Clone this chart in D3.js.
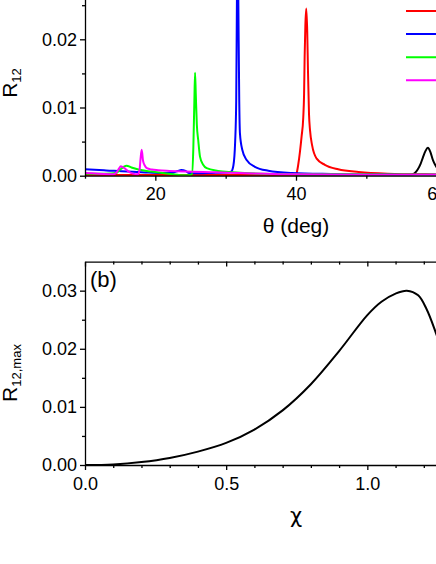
<!DOCTYPE html>
<html>
  <head>
    <meta charset="utf-8">
    <title>R12 vs theta and chi</title>
    <style>
      body { margin: 0; background: #fff; }
      svg { display: block; }
      .tick text { font-family: Arial, "Liberation Sans", sans-serif; }
      .lbl { font-family: Arial, "Liberation Sans", sans-serif; fill: #000; }
    </style>
  </head>
  <body>
    <div id="chart"></div>
    <script src="https://cdn.jsdelivr.net/npm/d3@7"></script>
    <script>
    // panel (a): R12 against theta, one curve per case
    var blackTheta = [10, 56.4, 56.9, 57.3, 57.7, 58.05, 58.4, 58.75, 59.1, 59.5, 59.9, 60.5, 61.5, 63, 70];
    var blackR     = [0, 0.0001, 0.0004, 0.0009, 0.0017, 0.0027, 0.0036, 0.0041, 0.0035, 0.0022, 0.0014, 0.0007, 0.0003, 0.0002, 0.0001];

    var redTheta = [10, 30, 40.0, 40.1, 40.3, 40.56, 40.8, 41.03, 41.15, 41.23, 41.33, 41.46, 41.6, 41.7, 41.85, 42.0, 42.3, 42.94, 44.1, 46.0, 48.9, 53, 60, 70];
    var redR     = [0.0001, 0.0001, 0.0001, 0.0004, 0.0015, 0.0035, 0.0058, 0.0085, 0.012, 0.0175, 0.022, 0.0245, 0.021, 0.0155, 0.009, 0.0066, 0.0044, 0.0025, 0.0016, 0.00094, 0.00054, 0.0003, 0.00018, 0.0001];

    var blueTheta = [10, 13, 16, 19, 21, 22.5, 23.2, 23.7, 24.3, 24.8, 26, 28, 30.5, 30.8, 31.1, 31.35, 31.5, 31.6, 31.7, 31.8, 31.93, 32.03, 32.36, 32.98, 34.16, 36.06, 39.4, 45, 55, 70];
    var blueR     = [0.00095, 0.00078, 0.0006, 0.00048, 0.0004, 0.00045, 0.0007, 0.00083, 0.0007, 0.0004, 0.00035, 0.0004, 0.0005, 0.0006, 0.0015, 0.005, 0.011, 0.0258, 0.036, 0.0258, 0.011, 0.0062, 0.0038, 0.0023, 0.0013, 0.00073, 0.0004, 0.00025, 0.00015, 0.0001];

    var greenTheta = [10, 13, 14.4, 15.0, 15.5, 15.9, 16.6, 17.6, 19.5, 21.0, 22.5, 23.5, 24.5, 25.2, 25.4, 25.55, 25.65, 25.75, 25.9, 26.1, 26.35, 26.8, 27.3, 28.9, 31, 35, 45, 70];
    var greenR     = [0.0003, 0.0003, 0.0004, 0.0009, 0.0013, 0.00147, 0.0012, 0.0009, 0.0006, 0.0004, 0.0002, 0.00008, 0.00005, 0.0002, 0.004, 0.011, 0.0151, 0.012, 0.0075, 0.0052, 0.0028, 0.0016, 0.0011, 0.0007, 0.0005, 0.0003, 0.0002, 0.0001];

    var magentaTheta = [10, 12, 14.0, 14.5, 14.8, 15.1, 15.6, 16.2, 16.8, 17.5, 17.75, 17.9, 18.06, 18.25, 18.5, 18.8, 19.5, 20.4, 22, 24.2, 28.5, 32, 40, 50, 70];
    var magentaR     = [0.0004, 0.0003, 0.0002, 0.0005, 0.001, 0.0014, 0.0011, 0.0006, 0.0003, 0.0002, 0.0008, 0.0025, 0.0038, 0.0022, 0.0015, 0.0011, 0.0009, 0.0008, 0.0007, 0.0006, 0.0005, 0.0004, 0.0002, 0.00015, 0.0001];

    // panel (b): peak value against chi
    var chi  = [0, 0.1, 0.2, 0.3, 0.4, 0.5, 0.6, 0.7, 0.8, 0.9, 1.0, 1.05, 1.1, 1.14, 1.18, 1.21, 1.243, 1.3, 1.4, 1.5];
    var rMax = [0, 0.0001, 0.0005, 0.0012, 0.0023, 0.0038, 0.0061, 0.0094, 0.0139, 0.0196, 0.0258, 0.0281, 0.0295, 0.03, 0.0292, 0.0268, 0.0227, 0.0145, 0.0055, 0.002];

    var thetaMajor = [20, 40, 60];
    var thetaMinor = [10, 30, 50, 70];
    var rMajorA = [0, 0.01, 0.02];
    var rMinorA = [0.005, 0.015, 0.025];
    var chiMajor = [0, 0.5, 1.0];
    var chiMinor = [0.1, 0.2, 0.3, 0.4, 0.6, 0.7, 0.8, 0.9, 1.1, 1.2, 1.3, 1.4];
    var rMajorB = [0, 0.01, 0.02, 0.03];
    var rMinorB = [0.005, 0.015, 0.025];

    var seriesA = [
      {color: "#000000", theta: blackTheta, r: blackR},
      {color: "#ff0000", theta: redTheta, r: redR},
      {color: "#0000ff", theta: blueTheta, r: blueR},
      {color: "#00ff00", theta: greenTheta, r: greenR},
      {color: "#ff00ff", theta: magentaTheta, r: magentaR}
    ];
    var legendColors = ["#ff0000", "#0000ff", "#00ff00", "#ff00ff"];

    var width = 436, height = 564;
    var svg = d3.select("#chart").append("svg")
        .attr("width", width)
        .attr("height", height);

    var fontTick = "18px", fontTitle = "21px";

    // layout of the two panels (the figure is cut at top and right)
    var left = 85;
    var aRight = 507, aBottom = 175.7, aTop = -28.9;
    var bRight = 508.5, bBottom = 465, bTop = 261.6;

    var xA = d3.scaleLinear().domain([10, 70]).range([left, aRight]);
    var yA = d3.scaleLinear().domain([0, 0.03]).range([aBottom, aTop]);
    var xB = d3.scaleLinear().domain([0, 1.5]).range([left, bRight]);
    var yB = d3.scaleLinear().domain([0, 0.035]).range([bBottom, bTop]);

    function styleAxis(g) {
      g.selectAll("path, line").attr("stroke", "#000").attr("stroke-width", 1.3);
      g.selectAll("text").attr("font-size", fontTick).attr("fill", "#000");
      g.attr("font-family", null).attr("font-size", null);
    }

    function drawAxes(x, y, bottom, top, xMaj, xMin, yMaj, yMin, xFmt, yFmt, topFrame) {
      svg.append("g")
          .attr("transform", "translate(0," + bottom + ")")
          .call(d3.axisBottom(x).tickValues(xMin).tickFormat("").tickSize(3).tickSizeOuter(0))
          .call(styleAxis)
          .call(function(g) { g.select(".domain").remove(); });
      svg.append("g")
          .attr("transform", "translate(0," + bottom + ")")
          .call(d3.axisBottom(x).tickValues(xMaj).tickFormat(xFmt).tickSize(5).tickSizeOuter(0).tickPadding(7))
          .call(styleAxis);
      svg.append("g")
          .attr("transform", "translate(" + left + ",0)")
          .call(d3.axisLeft(y).tickValues(yMin).tickFormat("").tickSize(3).tickSizeOuter(0))
          .call(styleAxis)
          .call(function(g) { g.select(".domain").remove(); });
      svg.append("g")
          .attr("transform", "translate(" + left + ",0)")
          .call(d3.axisLeft(y).tickValues(yMaj).tickFormat(yFmt).tickSize(5).tickSizeOuter(0).tickPadding(3))
          .call(styleAxis);
      if (topFrame) {
        svg.append("g")
            .attr("transform", "translate(0," + top + ")")
            .call(d3.axisBottom(x).tickValues(xMin).tickFormat("").tickSize(3).tickSizeOuter(0))
            .call(styleAxis);
        svg.append("g")
            .attr("transform", "translate(0," + top + ")")
            .call(d3.axisBottom(x).tickValues(xMaj).tickFormat("").tickSize(5).tickSizeOuter(0))
            .call(styleAxis)
            .call(function(g) { g.select(".domain").remove(); });
      }
    }

    // clip regions
    var defs = svg.append("defs");
    defs.append("clipPath").attr("id", "clipA").append("rect")
        .attr("x", left).attr("y", aTop).attr("width", aRight - left).attr("height", aBottom - aTop);
    defs.append("clipPath").attr("id", "clipB").append("rect")
        .attr("x", left).attr("y", bTop).attr("width", bRight - left).attr("height", bBottom - bTop);

    // panel (a) curves
    var lineA = d3.line()
        .x(function(d) { return xA(d[0]); })
        .y(function(d) { return yA(d[1]); })
        .curve(d3.curveMonotoneX);

    svg.append("g").attr("clip-path", "url(#clipA)")
      .selectAll("path")
      .data(seriesA)
      .join("path")
        .attr("fill", "none")
        .attr("stroke", function(d) { return d.color; })
        .attr("stroke-width", 2)
        .attr("stroke-linejoin", "round")
        .attr("d", function(d) { return lineA(d3.zip(d.theta, d.r)); });

    drawAxes(xA, yA, aBottom, aTop, thetaMajor, thetaMinor, rMajorA, rMinorA,
             d3.format("d"), d3.format(".2f"), false);

    // legend line samples (labels fall outside the crop)
    svg.append("g")
      .selectAll("line")
      .data(legendColors)
      .join("line")
        .attr("x1", 406).attr("x2", 446)
        .attr("y1", function(d, i) { return 11 + i * 23.1; })
        .attr("y2", function(d, i) { return 11 + i * 23.1; })
        .attr("stroke", function(d) { return d; })
        .attr("stroke-width", 2);

    // axis titles panel (a)
    var ya = svg.append("text").attr("class", "lbl")
        .attr("transform", "translate(17,83) rotate(-90)")
        .attr("text-anchor", "middle")
        .attr("font-size", fontTitle);
    ya.append("tspan").text("R");
    ya.append("tspan").attr("font-size", "13px").attr("dy", 4).text("12");

    svg.append("text").attr("class", "lbl")
        .attr("x", 296).attr("y", 233)
        .attr("text-anchor", "middle")
        .attr("font-size", fontTitle)
        .text("θ (deg)");

    // panel (b)
    var lineB = d3.line()
        .x(function(d) { return xB(d[0]); })
        .y(function(d) { return yB(d[1]); })
        .curve(d3.curveCatmullRom);

    svg.append("path")
        .attr("clip-path", "url(#clipB)")
        .attr("fill", "none")
        .attr("stroke", "#000")
        .attr("stroke-width", 2)
        .attr("d", lineB(d3.zip(chi, rMax)));

    drawAxes(xB, yB, bBottom, bTop, chiMajor, chiMinor, rMajorB, rMinorB,
             d3.format(".1f"), d3.format(".2f"), true);

    svg.append("text").attr("class", "lbl")
        .attr("x", 90).attr("y", 287)
        .attr("font-size", "22px")
        .text("(b)");

    var yb = svg.append("text").attr("class", "lbl")
        .attr("transform", "translate(17,373) rotate(-90)")
        .attr("text-anchor", "middle")
        .attr("font-size", fontTitle);
    yb.append("tspan").text("R");
    yb.append("tspan").attr("font-size", "13px").attr("dy", 4).text("12,max");

    svg.append("text")
        .attr("x", 296).attr("y", 523)
        .attr("text-anchor", "middle")
        .attr("font-family", "'DejaVu Sans', sans-serif")
        .attr("font-size", fontTitle)
        .text("χ");
    </script>
  </body>
</html>
